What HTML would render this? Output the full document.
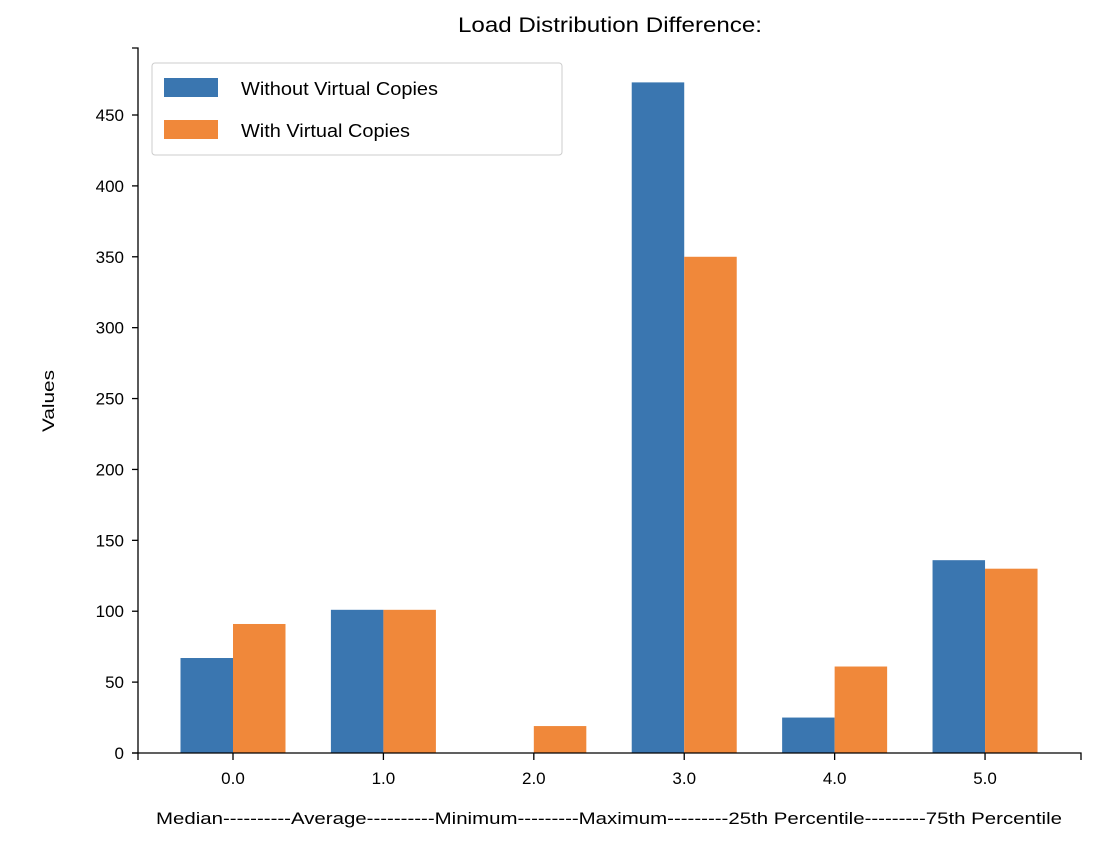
<!DOCTYPE html>
<html><head><meta charset="utf-8"><style>
body{margin:0;background:#fff}
svg{display:block;font-family:"Liberation Sans",Arial,sans-serif}
</style></head><body>
<svg id="chart" width="1104" height="852">
<text x="458" y="32" font-size="21" textLength="304" lengthAdjust="spacingAndGlyphs">Load Distribution Difference:</text>
<g id="bars"></g>
<g id="yaxis"></g>
<g id="xaxis"></g>
<text transform="translate(54,401) rotate(-90)" text-anchor="middle" font-size="17" textLength="62" lengthAdjust="spacingAndGlyphs">Values</text>
<text x="156" y="824" font-size="17" textLength="906" lengthAdjust="spacingAndGlyphs">Median----------Average----------Minimum---------Maximum---------25th Percentile---------75th Percentile</text>
<g>
<rect x="152" y="63" width="410" height="92" rx="3" fill="#fff" stroke="#ccc"/>
<rect x="164" y="78" width="54" height="19" fill="#3a76b0"/>
<text x="241" y="95" font-size="18" textLength="197" lengthAdjust="spacingAndGlyphs">Without Virtual Copies</text>
<rect x="164" y="120" width="54" height="19" fill="#f0883a"/>
<text x="241" y="137" font-size="18" textLength="169" lengthAdjust="spacingAndGlyphs">With Virtual Copies</text>
</g>
</svg>
<script>
const categories=["0.0","1.0","2.0","3.0","4.0","5.0"];
const withoutVals=[67,101,0,473,25,136];
const withVals=[91,101,19,350,61,130];
const yTicks=[0,50,100,150,200,250,300,350,400,450];
const NS="http://www.w3.org/2000/svg";
const x0=138,x1=1081,yBase=753,yPer=(753-115)/450,yTop=48;
const step=(x1-x0)/categories.length*0.957;
const first=233;
function xc(i){return first+i*step;}
function y(v){return yBase-v*yPer;}
function mk(t,a,p){const e=document.createElementNS(NS,t);for(const k in a)e.setAttribute(k,a[k]);p.appendChild(e);return e;}
const bars=document.getElementById('bars');
const bw=52.5;
categories.forEach((c,i)=>{
 const b=mk('rect',{x:xc(i)-bw,y:y(withoutVals[i]),width:bw,height:yBase-y(withoutVals[i]),fill:'#3a76b0'},bars);
 
 
 const o=mk('rect',{x:xc(i),y:y(withVals[i]),width:bw,height:yBase-y(withVals[i]),fill:'#f0883a'},bars);
 
 
});
const ya=document.getElementById('yaxis');
mk('path',{d:`M${x0-6},${yTop}H${x0}V${yBase}H${x0-6}`,stroke:'#000',fill:'none','stroke-width':1.3},ya);
yTicks.forEach(t=>{
 mk('line',{x1:x0-6,x2:x0,y1:y(t),y2:y(t),stroke:'#000','stroke-width':1.3},ya);
 const tx=mk('text',{x:x0-14,y:y(t)+6,'text-anchor':'end','font-size':17},ya);
 tx.textContent=t;
 
 
});
const xa=document.getElementById('xaxis');
mk('path',{d:`M${x0},${yBase+7}V${yBase}H${x1}V${yBase+7}`,stroke:'#000',fill:'none','stroke-width':1.3},xa);
categories.forEach((c,i)=>{
 mk('line',{x1:xc(i),x2:xc(i),y1:yBase,y2:yBase+7,stroke:'#000','stroke-width':1.3},xa);
 const tx=mk('text',{x:xc(i),y:yBase+31,'text-anchor':'middle','font-size':17},xa);
 tx.textContent=c;
 
 
});
</script>
</body></html>
